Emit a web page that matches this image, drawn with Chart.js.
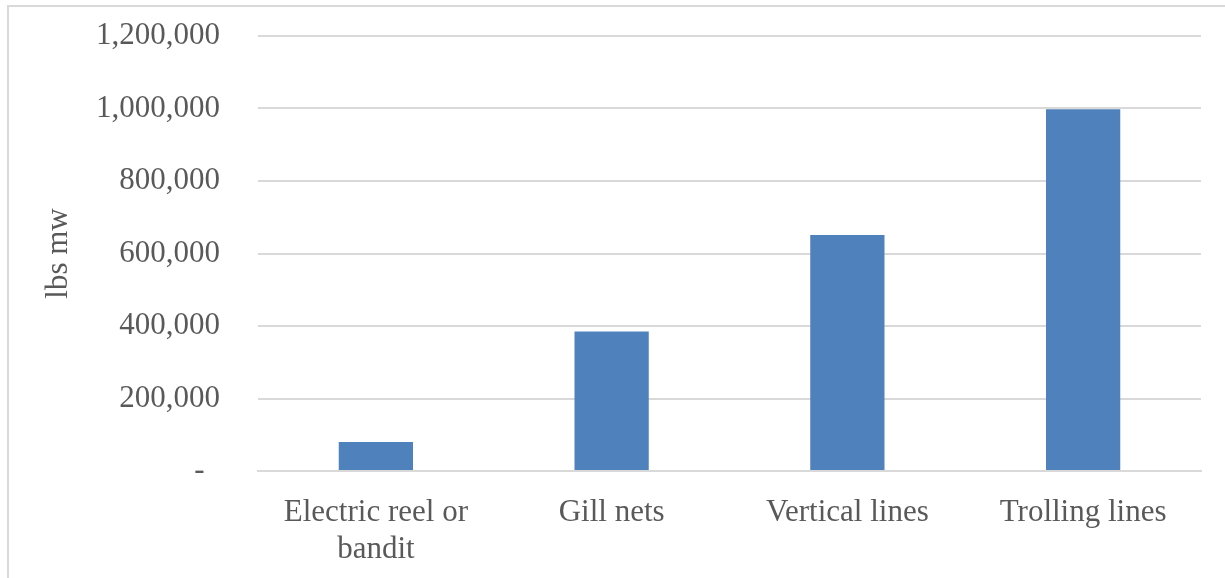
<!DOCTYPE html>
<html lang="en">
<head>
  <meta charset="UTF-8">
  <title>lbs mw by gear</title>
  <script src="https://cdn.jsdelivr.net/npm/chart.js"></script>
  <style>
    html, body { margin: 0; padding: 0; background: #fff; }
    #wrap { position: relative; width: 1225px; height: 578px; overflow: hidden; }
    #frame {
      position: absolute; left: 7px; top: 5px; width: 1300px; height: 700px;
      border-left: 2px solid #d9d9d9; border-top: 2px solid #d9d9d9;
    }
    #chartCanvas { position: absolute; left: 0; top: 0; }
  </style>
</head>
<body>
  <div id="wrap">
    <div id="frame"></div>
    <canvas id="chartCanvas" width="1225" height="578"></canvas>
  </div>

  <script>
    // data
    const gearTypes = [["Electric reel or", "bandit"], "Gill nets", "Vertical lines", "Trolling lines"];
    const lbsMw = [80000, 385000, 651000, 998000];
    const yTicks = [0, 200000, 400000, 600000, 800000, 1000000, 1200000];

    const textColor = "#595959";
    const gridColor = "#d9d9d9";
    const fontFamily = "'Liberation Serif', 'Times New Roman', serif";

    // Excel accounting style: zero shows as a dash
    function formatTick(v) {
      if (v === 0) return "-  ";
      return v.toLocaleString("en-US");
    }

    const ctx = document.getElementById("chartCanvas").getContext("2d");
    new Chart(ctx, {
      type: "bar",
      data: {
        labels: gearTypes,
        datasets: [{
          label: "lbs mw",
          data: lbsMw,
          backgroundColor: "#4f81bd",
          borderWidth: 0,
          barPercentage: 0.315,
          categoryPercentage: 1.0,
        }],
      },
      options: {
        responsive: false,
        animation: false,
        layout: { padding: { left: 0, right: 24, top: 0, bottom: 0 } },
        plugins: {
          legend: { display: false },
          tooltip: { enabled: false },
        },
        scales: {
          x: {
            grid: { display: false, drawTicks: false },
            border: { display: true, color: gridColor, width: 2 },
            ticks: {
              color: textColor,
              font: { family: fontFamily, size: 31 },
              padding: 23,
              maxRotation: 0,
              autoSkip: false,
            },
            afterFit: (scale) => { scale.height = 107; },
          },
          y: {
            min: 0,
            max: 1200000,
            afterBuildTicks: (scale) => { scale.ticks = yTicks.map(v => ({ value: v })); },
            grid: { color: gridColor, lineWidth: 2, drawTicks: false },
            border: { display: false },
            ticks: {
              color: textColor,
              font: { family: fontFamily, size: 31 },
              padding: 38,
              callback: (v) => formatTick(v),
            },
            title: {
              display: true,
              text: "lbs mw",
              color: textColor,
              font: { family: fontFamily, size: 31 },
              padding: { top: 40, bottom: 0 },
            },
            afterFit: (scale) => {
              scale.width = 258;
              scale.paddingTop = 36;
              scale.paddingBottom = 0;
            },
          },
        },
      },
    });
  </script>
</body>
</html>
